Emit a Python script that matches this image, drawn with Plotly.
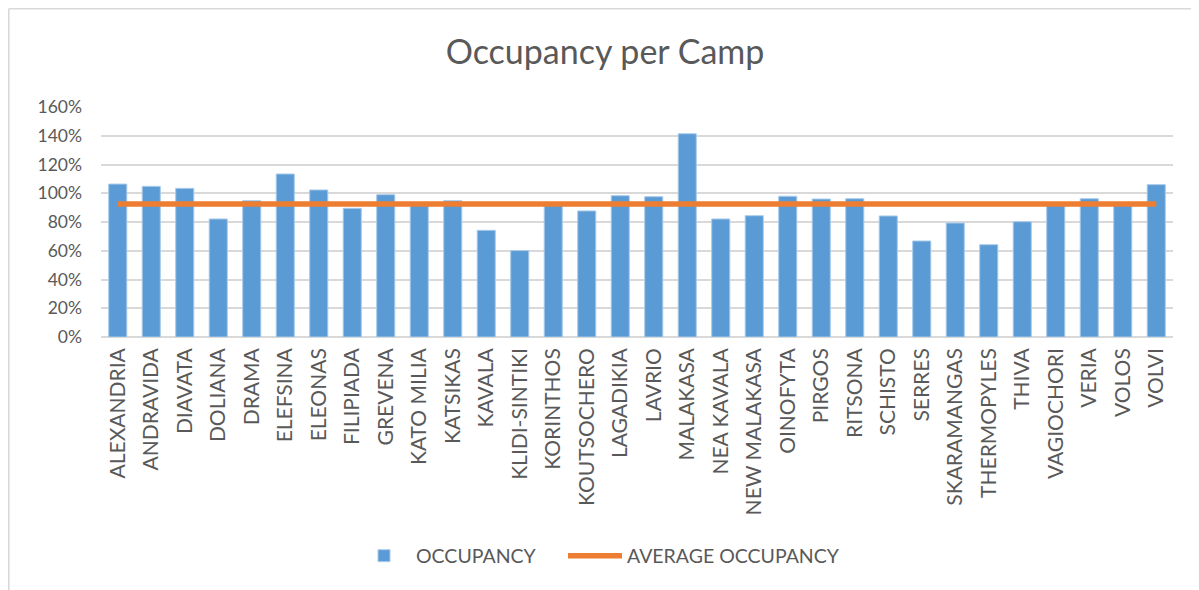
import plotly.graph_objects as go

CAMPS = ["ALEXANDRIA", "ANDRAVIDA", "DIAVATA", "DOLIANA", "DRAMA", "ELEFSINA",
         "ELEONAS", "FILIPIADA", "GREVENA", "KATO MILIA", "KATSIKAS", "KAVALA",
         "KLIDI-SINTIKI", "KORINTHOS", "KOUTSOCHERO", "LAGADIKIA", "LAVRIO",
         "MALAKASA", "NEA KAVALA", "NEW MALAKASA", "OINOFYTA", "PIRGOS",
         "RITSONA", "SCHISTO", "SERRES", "SKARAMANGAS", "THERMOPYLES", "THIVA",
         "VAGIOCHORI", "VERIA", "VOLOS", "VOLVI"]
OCCUPANCY = [1.064, 1.048, 1.034, 0.821, 0.948, 1.134, 1.023, 0.895, 0.990,
             0.915, 0.948, 0.742, 0.601, 0.915, 0.877, 0.983, 0.976, 1.414,
             0.821, 0.844, 0.979, 0.960, 0.962, 0.842, 0.668, 0.793, 0.642,
             0.802, 0.920, 0.962, 0.920, 1.060]
AVERAGE_OCCUPANCY = 0.925
AVERAGE_SERIES = [AVERAGE_OCCUPANCY] * len(CAMPS)
Y_TICKS = [0, 0.2, 0.4, 0.6, 0.8, 1.0, 1.2, 1.4, 1.6]

FONT = "Lato, 'Open Sans', sans-serif"
GREY = "#595959"

# the page places the figure 8px from the top-left corner of the window
FW, FH = 1191, 582
L, R, T = 93, 26, 99
B = FH - 329
W = FW - L - R
H = FH - T - B

fig = go.Figure()
fig.add_trace(go.Bar(
    x=CAMPS, y=OCCUPANCY, name="OCCUPANCY", legend="legend",
    marker=dict(color="#5B9BD5", line=dict(color="#A9CBEA", width=1)),
))
fig.add_trace(go.Scatter(
    x=CAMPS, y=AVERAGE_SERIES, name="AVERAGE OCCUPANCY", mode="lines",
    legend="legend2",
    line=dict(color="#ED7D31", width=5.5),
))

def px_x(p):
    return (p - L) / W
def px_y(p):
    return (FH - B - p) / H
border = dict(color="#d9d9d9", width=1.6)
shapes = [
    dict(type="line", xref="paper", yref="paper", x0=px_x(0.8), x1=px_x(0.8),
         y0=px_y(0.8), y1=px_y(FH + 20), line=border),
    dict(type="line", xref="paper", yref="paper", x0=px_x(0.8), x1=px_x(FW + 20),
         y0=px_y(0.8), y1=px_y(0.8), line=border),
]

legend_common = dict(orientation="h", xref="container", xanchor="left",
                     yref="container", y=1 - 548 / FH, yanchor="middle",
                     font=dict(size=19.5, color=GREY, family=FONT),
                     itemwidth=54, bgcolor="rgba(0,0,0,0)")

fig.update_layout(
    width=FW, height=FH,
    margin=dict(l=L, r=R, t=T, b=B),
    paper_bgcolor="white", plot_bgcolor="white",
    font=dict(family=FONT, color=GREY),
    title=dict(text="Occupancy per Camp", x=(605 - 8) / FW, xref="container",
               xanchor="center", y=1 - 44 / FH, yref="container", yanchor="middle",
               font=dict(size=34, color=GREY, family=FONT)),
    bargap=0.46,
    showlegend=True,
    legend=dict(x=(352 - 8) / FW, **legend_common),
    legend2=dict(x=(563 - 8) / FW, **legend_common),
    shapes=shapes,
)
fig.update_xaxes(
    type="category", tickangle=-90, showgrid=False,
    tickfont=dict(size=21, color=GREY, family=FONT),
    showline=False, ticks="", ticklabelstandoff=6,
)
fig.update_yaxes(
    range=[0, 1.6], tickvals=Y_TICKS, tickformat=".0%",
    showgrid=True, gridcolor="#d9d9d9", gridwidth=1.5,
    zeroline=True, zerolinecolor="#d9d9d9", zerolinewidth=1.5,
    tickfont=dict(size=17.5, color=GREY, family=FONT),
    ticks="", ticklabelstandoff=18, showline=False,
)

fig.write_html("out.html")
